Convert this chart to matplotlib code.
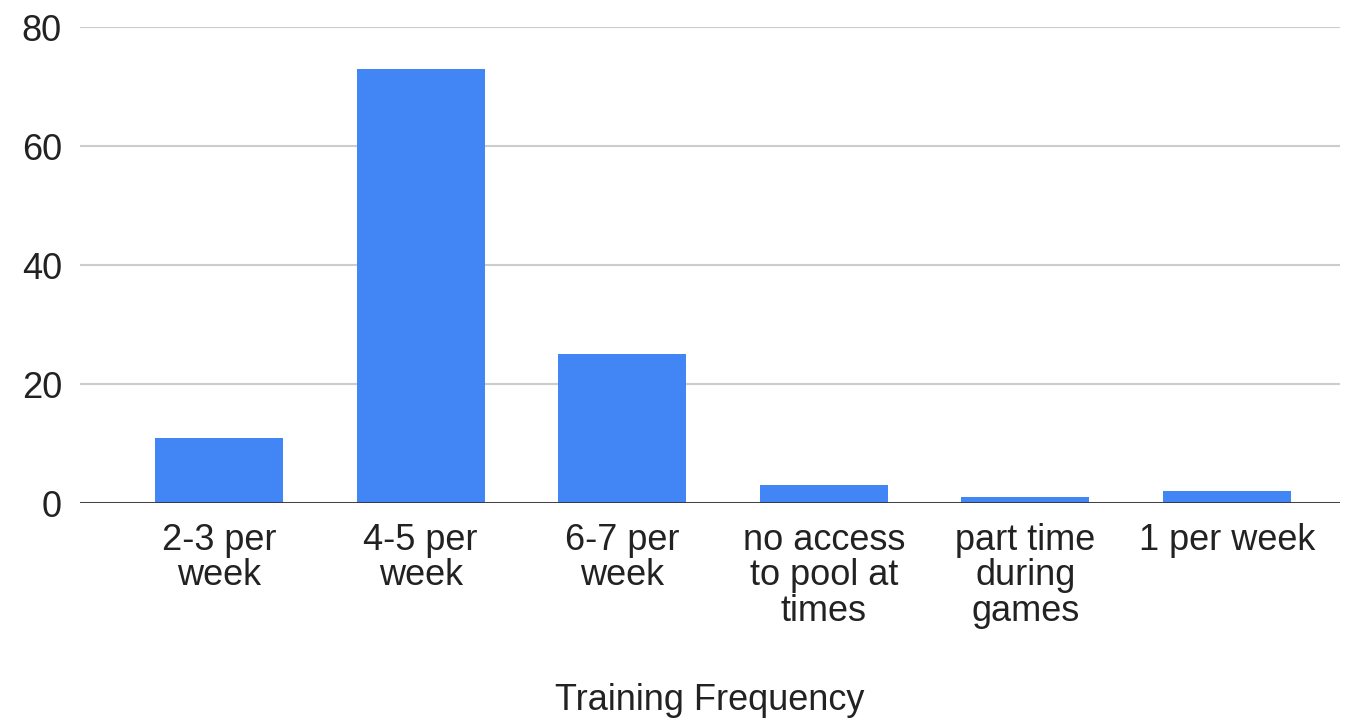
import matplotlib
matplotlib.use('Agg')
from matplotlib import pyplot as plt

categories = ['2-3 per\nweek', '4-5 per\nweek', '6-7 per\nweek',
              'no access\nto pool at\ntimes', 'part time\nduring\ngames', '1 per week']
counts = [11, 73, 25, 3, 1, 2]

plt.rcParams['font.family'] = ['Liberation Sans', 'DejaVu Sans']

fig = plt.figure(figsize=(13.56, 7.2), dpi=100)
ax = fig.add_axes([0.059, 0.301, 0.929, 0.6615])

x = list(range(len(categories)))
ax.bar(x, counts, width=0.635, color='#4285F4', zorder=3)

ax.set_ylim(0, 80)
ax.set_xlim(-0.69, 5.56)
ax.set_yticks([0, 20, 40, 60, 80])
ax.set_xticks(x)
ax.set_xticklabels(categories, linespacing=1.02)
ax.tick_params(axis='both', length=0, labelsize=26, colors='#222222')
ax.tick_params(axis='x', pad=14)
ax.tick_params(axis='y', pad=13)
ax.grid(axis='y', color='#cccccc', linewidth=1.5, zorder=0)
ax.axhline(0, color='#333333', linewidth=2, zorder=4)

for s in ax.spines.values():
    s.set_visible(False)

ax.set_xlabel('Training Frequency', fontsize=26, color='#222222', va='center')
ax.xaxis.set_label_coords(0.5, -0.414)

fig.savefig('out.png', dpi=100, facecolor='white')
